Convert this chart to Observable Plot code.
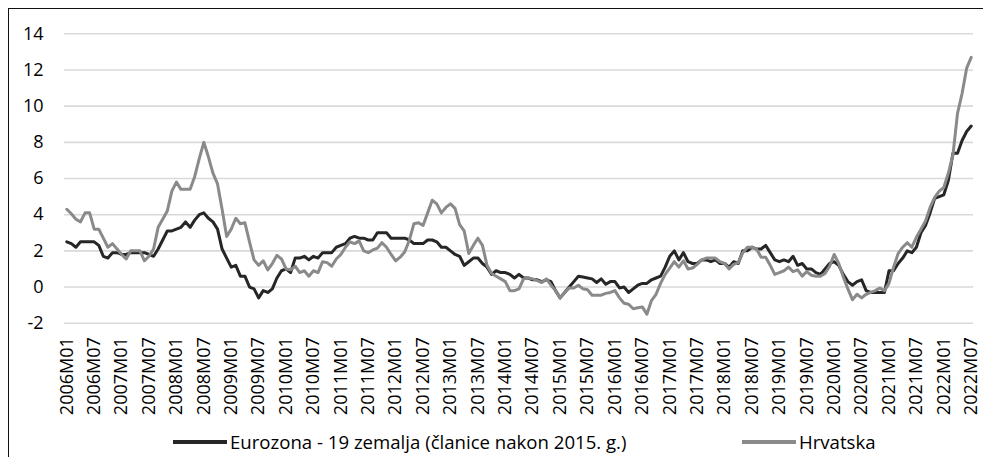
<!DOCTYPE html>
<html><head><meta charset="utf-8">
<script src="https://cdn.jsdelivr.net/npm/d3@7"></script>
<script src="https://cdn.jsdelivr.net/npm/@observablehq/plot@0.6"></script>
<style>
body{margin:0;background:#fff;font-family:"Open Sans",sans-serif;}
#wrap{position:relative;width:983px;height:457px;overflow:hidden;}
#frame{position:absolute;left:8px;top:8px;width:1000px;height:500px;border-left:1.5px solid #111;border-top:1.5px solid #111;}
#chart{position:absolute;left:0;top:0;}
.leg{position:absolute;top:430px;height:24px;line-height:24px;font-size:18.6px;color:#000;display:flex;align-items:center;white-space:nowrap;}
.sw{display:inline-block;width:54px;height:3.5px;margin-right:3px;}
</style></head><body>
<div id="wrap"><div id="frame"></div><div id="chart"></div>
<div class="leg" style="left:173px"><span class="sw" style="background:#262626"></span><span id="l1"></span></div>
<div class="leg" style="left:742px"><span class="sw" style="background:#8a8a8a"></span><span id="l2"></span></div>
</div>
<script>
const seriesNames = ["Eurozona - 19 zemalja (članice nakon 2015. g.)", "Hrvatska"];
const years = d3.range(2006, 2023);
const months = [];
for (const y of years) for (let m = 1; m <= 12; m++) { if (y === 2022 && m > 7) break; months.push(y + "M" + String(m).padStart(2, "0")); }
const xTicks = months.filter((d, i) => i % 6 === 0);
const yTicks = [-2, 0, 2, 4, 6, 8, 10, 12, 14];

const eurozona = [
  2.5, 2.4, 2.2, 2.5, 2.5, 2.5, 2.5, 2.3, 1.7, 1.6, 1.9, 1.9,
  1.8, 1.8, 1.9, 1.9, 1.9, 1.9, 1.8, 1.7, 2.1, 2.6, 3.1, 3.1,
  3.2, 3.3, 3.6, 3.3, 3.7, 4.0, 4.1, 3.8, 3.6, 3.2, 2.1, 1.6,
  1.1, 1.2, 0.6, 0.6, 0.0, -0.1, -0.6, -0.2, -0.3, -0.1, 0.5, 0.9,
  1.0, 0.8, 1.6, 1.6, 1.7, 1.5, 1.7, 1.6, 1.9, 1.9, 1.9, 2.2,
  2.3, 2.4, 2.7, 2.8, 2.7, 2.7, 2.6, 2.6, 3.0, 3.0, 3.0, 2.7,
  2.7, 2.7, 2.7, 2.6, 2.4, 2.4, 2.4, 2.6, 2.6, 2.5, 2.2, 2.2,
  2.0, 1.8, 1.7, 1.2, 1.4, 1.6, 1.6, 1.3, 1.1, 0.7, 0.9, 0.8,
  0.8, 0.7, 0.5, 0.7, 0.5, 0.5, 0.4, 0.4, 0.3, 0.4, 0.3, -0.2,
  -0.6, -0.3, 0.0, 0.3, 0.6, 0.55, 0.5, 0.45, 0.25, 0.45, 0.15, 0.3,
  0.3, -0.05, 0.0, -0.3, -0.1, 0.1, 0.2, 0.2, 0.4, 0.5, 0.6, 1.1,
  1.7, 2.0, 1.5, 1.9, 1.4, 1.3, 1.3, 1.5, 1.5, 1.4, 1.5, 1.3,
  1.3, 1.1, 1.4, 1.3, 2.0, 2.0, 2.2, 2.1, 2.1, 2.3, 1.9, 1.5,
  1.4, 1.5, 1.4, 1.7, 1.2, 1.3, 1.0, 1.0, 0.8, 0.7, 1.0, 1.3,
  1.4, 1.2, 0.7, 0.3, 0.1, 0.3, 0.4, -0.2, -0.3, -0.3, -0.3, -0.3,
  0.9, 0.9, 1.3, 1.6, 2.0, 1.9, 2.2, 3.0, 3.4, 4.1, 4.9, 5.0,
  5.1, 5.9, 7.4, 7.4, 8.1, 8.6, 8.9
];
const hrvatska = [
  4.3, 4.05, 3.75, 3.6, 4.1, 4.1, 3.2, 3.2, 2.7, 2.2, 2.4, 2.1,
  1.8, 1.55, 2.0, 2.0, 2.0, 1.45, 1.7, 2.1, 3.3, 3.75, 4.2, 5.3,
  5.8, 5.4, 5.4, 5.4, 6.1, 7.1, 8.0, 7.2, 6.3, 5.7, 4.3, 2.8,
  3.2, 3.8, 3.5, 3.55, 2.5, 1.5, 1.2, 1.45, 0.95, 1.3, 1.75, 1.55,
  1.0, 0.95, 1.15, 0.8, 0.9, 0.6, 0.9, 0.8, 1.4, 1.35, 1.15, 1.55,
  1.8, 2.2, 2.5, 2.4, 2.55, 2.0, 1.9, 2.05, 2.15, 2.45, 2.2, 1.8,
  1.45, 1.65, 1.95, 2.6, 3.5, 3.55, 3.4, 4.1, 4.8, 4.6, 4.1, 4.4,
  4.6, 4.35, 3.45, 3.1, 1.85, 2.3, 2.7, 2.3, 1.2, 0.75, 0.6, 0.45,
  0.3, -0.2, -0.2, -0.1, 0.45, 0.5, 0.45, 0.35, 0.25, 0.45, 0.1, -0.2,
  -0.6, -0.3, -0.05, -0.05, 0.1, -0.1, -0.15, -0.45, -0.45, -0.45, -0.35, -0.3,
  -0.2, -0.6, -0.9, -0.95, -1.2, -1.15, -1.1, -1.5, -0.75, -0.4, 0.2, 0.7,
  1.05, 1.4, 1.1, 1.45, 1.0, 1.05, 1.25, 1.5, 1.6, 1.6, 1.6, 1.4,
  1.3, 1.0, 1.25, 1.35, 1.9, 2.2, 2.2, 2.1, 1.65, 1.65, 1.2, 0.7,
  0.8, 0.9, 1.1, 0.85, 0.95, 0.6, 0.85, 0.65, 0.6, 0.6, 0.75, 1.15,
  1.8, 1.3, 0.55, -0.1, -0.7, -0.4, -0.6, -0.4, -0.3, -0.2, -0.05, -0.2,
  0.2, 1.1, 1.85, 2.2, 2.45, 2.2, 2.75, 3.2, 3.65, 4.4, 4.95, 5.3,
  5.5, 6.3, 7.3, 9.6, 10.7, 12.1, 12.7
];
const colors = ["#262626", "#8a8a8a"];

document.getElementById("l1").textContent = seriesNames[0];
document.getElementById("l2").textContent = seriesNames[1];

const rows = [];
months.forEach((m, i) => {
  rows.push({month: m, value: eurozona[i], series: seriesNames[0]});
});
months.forEach((m, i) => {
  rows.push({month: m, value: hrvatska[i], series: seriesNames[1]});
});

const H = 425;
const chart = Plot.plot({
  width: 983,
  height: H,
  marginLeft: 64,
  marginRight: 10,
  marginTop: 33.3,
  marginBottom: H - 322.7,
  x: {type: "point", domain: months, padding: 0.5},
  y: {domain: [-2, 14]},
  color: {domain: seriesNames, range: colors},
  style: {fontFamily: "'Open Sans', sans-serif", fontSize: "18px", color: "#000", background: "transparent", overflow: "visible"},
  marks: [
    Plot.gridY(yTicks, {stroke: "#d9d9d9", strokeOpacity: 1, strokeWidth: 1.6}),
    Plot.axisY(yTicks, {tickSize: 0, tickPadding: 21, fontSize: 18, label: null, tickFormat: d => String(d)}),
    Plot.axisX(xTicks, {tickSize: 0, tickPadding: 14, tickRotate: -90, fontSize: 18, label: null}),
    Plot.lineY(rows, {x: "month", y: "value", z: "series", stroke: "series", strokeWidth: 3, strokeLinejoin: "round"})
  ]
});
document.getElementById("chart").appendChild(chart);
</script>
</body></html>
